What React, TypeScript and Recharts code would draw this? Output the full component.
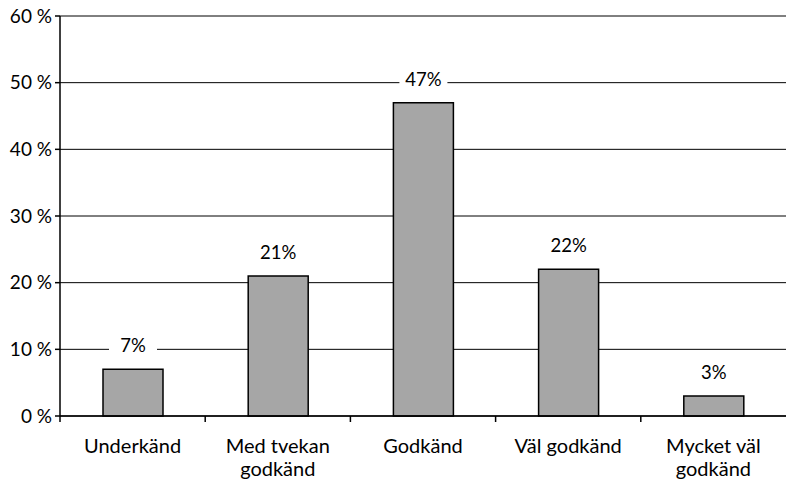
import React from "react";
import { Bar, BarChart, CartesianGrid, LabelList, XAxis, YAxis } from "recharts";

const categories = ["Underkänd", "Med tvekan\ngodkänd", "Godkänd", "Väl godkänd", "Mycket väl\ngodkänd"];
const shares = [7, 21, 47, 22, 3];
const yTicks = [0, 10, 20, 30, 40, 50, 60];

const data = categories.map((name, i) => ({ name, value: shares[i] }));

const FONT = "Lato, 'Open Sans', sans-serif";
const WIDTH = 786;
const HEIGHT = 482;
const PLOT_LEFT = 60;

// category tick: boundary mark on the left of each band + (multi-line) label
const CategoryTick = (props: any) => {
    const { x, y, payload } = props;
    const band = (WIDTH - PLOT_LEFT) / categories.length;
    const lines = String(payload.value).split("\n");
    return (
        <g>
            <line x1={x - band / 2} x2={x - band / 2} y1={y} y2={y + 6} stroke="#000" strokeWidth={1.5} />
            {lines.map((line, i) => (
                <text key={i} x={x} y={y + 37 + i * 23} textAnchor="middle" fill="#000" fontSize={20} fontFamily={FONT}>
                    {line}
                </text>
            ))}
        </g>
    );
};

const ValueLabel = (props: any) => {
    const { x, y, width, value } = props;
    const cx = x + width / 2;
    const cy = y - 23;
    return (
        <g>
            <rect x={cx - 24} y={cy - 12} width={48} height={24} fill="#fff" />
            <text x={cx} y={cy + 6} textAnchor="middle" fill="#000" fontSize={18.5} fontFamily={FONT}>
                {`${value}%`}
            </text>
        </g>
    );
};

export default function App() {
    return (
        <div style={{ position: "absolute", left: 0, top: 0, background: "#fff" }}>
            <BarChart
                width={WIDTH}
                height={HEIGHT}
                data={data}
                margin={{ top: 16, right: 0, bottom: 6, left: 0 }}
            >
                <CartesianGrid vertical={false} stroke="#000" strokeWidth={1} />
                <XAxis
                    dataKey="name"
                    interval={0}
                    height={60}
                    tickLine={false}
                    tickSize={0}
                    tickMargin={0}
                    axisLine={{ stroke: "#000", strokeWidth: 1.5 }}
                    tick={<CategoryTick />}
                />
                <YAxis
                    width={PLOT_LEFT}
                    domain={[0, 60]}
                    ticks={yTicks}
                    interval={0}
                    tickSize={5}
                    tickMargin={3}
                    axisLine={{ stroke: "#000", strokeWidth: 1.5 }}
                    tickLine={{ stroke: "#000", strokeWidth: 1.5 }}
                    tickFormatter={(v: number) => `${v} %`}
                    tick={{ fill: "#000", fontSize: 19, fontFamily: FONT }}
                />
                <Bar dataKey="value" fill="#a6a6a6" stroke="#000" strokeWidth={1.5} barSize={60} isAnimationActive={false}>
                    <LabelList dataKey="value" content={<ValueLabel />} />
                </Bar>
            </BarChart>
        </div>
    );
}
